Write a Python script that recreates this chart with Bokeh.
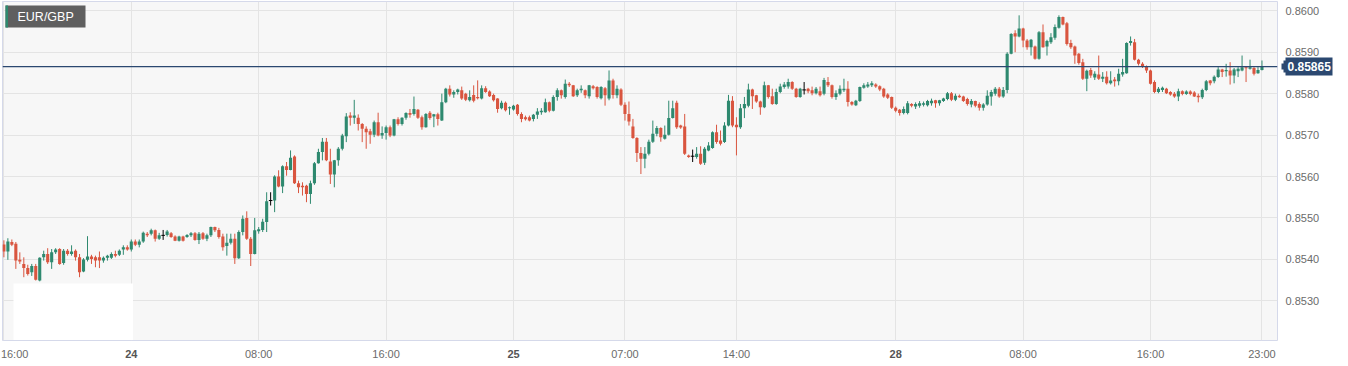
from bokeh.plotting import figure
from bokeh.models import (Range1d, FixedTicker, Label, Span, BoxAnnotation,
                          ColumnDataSource, LinearAxis)
from bokeh.embed import file_html
from bokeh.resources import INLINE

# ---------------- data: EUR/GBP 15-minute candles ----------------
opens = [
0.85436,0.85419,0.85442,0.85438,0.85399,0.85389,0.85379,0.85369,0.85384,0.85349,
0.85405,0.85413,0.85393,0.85417,0.85425,0.85391,0.85421,0.85413,0.85421,0.85405,
0.85371,0.85399,0.85407,0.85405,0.85405,0.85397,0.85404,0.85404,0.85413,0.85411,
0.85424,0.85429,0.85424,0.85443,0.85435,0.85443,0.85462,0.85462,0.85470,0.85450,
0.85458,0.85459,0.85463,0.85455,0.85445,0.85455,0.85454,0.85458,0.85463,0.85447,
0.85463,0.85450,0.85458,0.85478,0.85471,0.85455,0.85432,0.85440,0.85450,0.85403,
0.85466,0.85500,0.85450,0.85413,0.85468,0.85471,0.85490,0.85542,0.85542,0.85600,
0.85576,0.85625,0.85616,0.85648,0.85584,0.85578,0.85578,0.85558,0.85584,0.85632,
0.85659,0.85684,0.85636,0.85605,0.85639,0.85667,0.85697,0.85747,0.85742,0.85742,
0.85727,0.85715,0.85709,0.85701,0.85731,0.85699,0.85705,0.85719,0.85699,0.85738,
0.85727,0.85742,0.85753,0.85751,0.85761,0.85743,0.85719,0.85754,0.85745,0.85750,
0.85735,0.85779,0.85812,0.85798,0.85804,0.85808,0.85800,0.85784,0.85797,0.85792,
0.85788,0.85813,0.85805,0.85797,0.85788,0.85765,0.85778,0.85765,0.85762,0.85773,
0.85751,0.85743,0.85743,0.85739,0.85749,0.85755,0.85755,0.85779,0.85759,0.85792,
0.85808,0.85792,0.85824,0.85820,0.85796,0.85808,0.85808,0.85794,0.85818,0.85816,
0.85789,0.85813,0.85788,0.85832,0.85796,0.85810,0.85773,0.85751,0.85721,0.85693,
0.85657,0.85643,0.85655,0.85684,0.85703,0.85717,0.85691,0.85701,0.85741,0.85778,
0.85723,0.85721,0.85651,0.85649,0.85647,0.85655,0.85633,0.85663,0.85669,0.85707,
0.85687,0.85683,0.85723,0.85783,0.85725,0.85719,0.85765,0.85771,0.85810,0.85796,
0.85781,0.85767,0.85820,0.85794,0.85775,0.85804,0.85816,0.85817,0.85828,0.85812,
0.85792,0.85809,0.85812,0.85808,0.85801,0.85806,0.85800,0.85828,0.85820,0.85792,
0.85800,0.85808,0.85812,0.85780,0.85772,0.85782,0.85814,0.85817,0.85820,0.85822,
0.85818,0.85812,0.85798,0.85792,0.85766,0.85761,0.85753,0.85753,0.85775,0.85769,
0.85771,0.85773,0.85772,0.85777,0.85784,0.85777,0.85782,0.85787,0.85801,0.85785,
0.85795,0.85793,0.85787,0.85774,0.85782,0.85775,0.85766,0.85774,0.85793,0.85800,
0.85812,0.85793,0.85809,0.85896,0.85946,0.85938,0.85957,0.85928,0.85912,0.85914,
0.85884,0.85948,0.85914,0.85924,0.85935,0.85959,0.85985,0.85970,0.85922,0.85914,
0.85896,0.85876,0.85836,0.85857,0.85839,0.85846,0.85836,0.85841,0.85825,0.85834,
0.85830,0.85846,0.85849,0.85922,0.85924,0.85882,0.85872,0.85866,0.85856,0.85828,
0.85804,0.85809,0.85812,0.85804,0.85800,0.85793,0.85806,0.85799,0.85805,0.85803,
0.85795,0.85791,0.85809,0.85832,0.85830,0.85840,0.85858,0.85854,0.85856,0.85844,
0.85854,0.85856,0.85864,0.85860,0.85862,0.85849,0.85857]

highs = [
0.85446,0.85451,0.85448,0.85442,0.85417,0.85405,0.85387,0.85389,0.85389,0.85405,
0.85421,0.85427,0.85425,0.85427,0.85427,0.85425,0.85425,0.85434,0.85424,0.85413,
0.85403,0.85456,0.85411,0.85409,0.85419,0.85407,0.85411,0.85417,0.85421,0.85424,
0.85434,0.85434,0.85448,0.85448,0.85448,0.85467,0.85466,0.85474,0.85472,0.85464,
0.85471,0.85471,0.85466,0.85458,0.85457,0.85457,0.85461,0.85466,0.85466,0.85466,
0.85466,0.85462,0.85479,0.85479,0.85476,0.85462,0.85462,0.85462,0.85462,0.85470,
0.85506,0.85516,0.85454,0.85500,0.85478,0.85498,0.85562,0.85562,0.85603,0.85615,
0.85627,0.85635,0.85663,0.85651,0.85590,0.85586,0.85580,0.85590,0.85635,0.85667,
0.85693,0.85693,0.85667,0.85640,0.85671,0.85703,0.85753,0.85755,0.85785,0.85750,
0.85729,0.85721,0.85715,0.85735,0.85754,0.85721,0.85723,0.85723,0.85739,0.85743,
0.85743,0.85755,0.85763,0.85793,0.85763,0.85747,0.85753,0.85758,0.85751,0.85754,
0.85800,0.85814,0.85820,0.85808,0.85812,0.85817,0.85802,0.85808,0.85820,0.85832,
0.85820,0.85818,0.85808,0.85800,0.85789,0.85783,0.85781,0.85769,0.85773,0.85775,
0.85755,0.85747,0.85747,0.85751,0.85765,0.85765,0.85788,0.85781,0.85796,0.85813,
0.85810,0.85834,0.85828,0.85821,0.85812,0.85820,0.85810,0.85821,0.85821,0.85818,
0.85818,0.85816,0.85856,0.85836,0.85820,0.85813,0.85779,0.85781,0.85739,0.85695,
0.85671,0.85671,0.85689,0.85735,0.85722,0.85719,0.85723,0.85783,0.85783,0.85783,
0.85725,0.85751,0.85653,0.85665,0.85671,0.85673,0.85671,0.85683,0.85709,0.85725,
0.85711,0.85731,0.85797,0.85794,0.85743,0.85775,0.85792,0.85824,0.85812,0.85797,
0.85783,0.85829,0.85821,0.85812,0.85812,0.85824,0.85828,0.85836,0.85830,0.85814,
0.85814,0.85828,0.85814,0.85817,0.85816,0.85817,0.85838,0.85840,0.85822,0.85808,
0.85820,0.85836,0.85830,0.85782,0.85785,0.85817,0.85825,0.85828,0.85830,0.85825,
0.85820,0.85814,0.85801,0.85793,0.85769,0.85763,0.85769,0.85782,0.85777,0.85779,
0.85782,0.85781,0.85785,0.85788,0.85785,0.85785,0.85790,0.85804,0.85804,0.85800,
0.85798,0.85795,0.85790,0.85787,0.85783,0.85779,0.85777,0.85808,0.85809,0.85816,
0.85816,0.85816,0.85900,0.85946,0.85953,0.85989,0.85959,0.85932,0.85932,0.85916,
0.85951,0.85967,0.85930,0.85946,0.85967,0.85989,0.85986,0.85973,0.85930,0.85916,
0.85898,0.85884,0.85858,0.85862,0.85854,0.85892,0.85852,0.85854,0.85854,0.85840,
0.85860,0.85884,0.85924,0.85938,0.85932,0.85884,0.85876,0.85868,0.85858,0.85832,
0.85816,0.85817,0.85814,0.85806,0.85804,0.85812,0.85808,0.85808,0.85808,0.85806,
0.85800,0.85812,0.85833,0.85833,0.85844,0.85864,0.85860,0.85872,0.85876,0.85862,
0.85864,0.85892,0.85865,0.85882,0.85864,0.85864,0.85880]

lows = [
0.85405,0.85399,0.85432,0.85377,0.85389,0.85357,0.85361,0.85360,0.85349,0.85347,
0.85397,0.85389,0.85377,0.85413,0.85387,0.85387,0.85409,0.85409,0.85397,0.85357,
0.85369,0.85395,0.85389,0.85381,0.85379,0.85392,0.85397,0.85401,0.85405,0.85408,
0.85411,0.85421,0.85419,0.85432,0.85429,0.85440,0.85454,0.85458,0.85443,0.85447,
0.85447,0.85455,0.85452,0.85444,0.85443,0.85443,0.85452,0.85454,0.85445,0.85437,
0.85447,0.85444,0.85454,0.85466,0.85450,0.85421,0.85409,0.85436,0.85389,0.85401,
0.85458,0.85447,0.85384,0.85412,0.85462,0.85466,0.85466,0.85530,0.85514,0.85574,
0.85560,0.85602,0.85615,0.85582,0.85560,0.85554,0.85538,0.85534,0.85580,0.85631,
0.85639,0.85637,0.85582,0.85574,0.85626,0.85663,0.85683,0.85723,0.85727,0.85711,
0.85683,0.85667,0.85679,0.85695,0.85697,0.85691,0.85689,0.85695,0.85697,0.85723,
0.85723,0.85737,0.85742,0.85747,0.85739,0.85713,0.85718,0.85737,0.85719,0.85723,
0.85734,0.85777,0.85793,0.85790,0.85798,0.85785,0.85782,0.85781,0.85779,0.85786,
0.85786,0.85802,0.85792,0.85781,0.85754,0.85762,0.85757,0.85749,0.85759,0.85747,
0.85731,0.85735,0.85733,0.85733,0.85739,0.85749,0.85754,0.85755,0.85757,0.85783,
0.85788,0.85788,0.85816,0.85792,0.85792,0.85802,0.85789,0.85788,0.85810,0.85788,
0.85786,0.85771,0.85784,0.85788,0.85789,0.85770,0.85735,0.85723,0.85691,0.85635,
0.85606,0.85620,0.85651,0.85681,0.85697,0.85684,0.85689,0.85699,0.85740,0.85715,
0.85715,0.85652,0.85645,0.85635,0.85643,0.85628,0.85628,0.85661,0.85667,0.85679,
0.85675,0.85681,0.85721,0.85719,0.85651,0.85715,0.85741,0.85767,0.85763,0.85778,
0.85749,0.85765,0.85788,0.85773,0.85773,0.85801,0.85812,0.85812,0.85809,0.85790,
0.85790,0.85798,0.85801,0.85796,0.85798,0.85793,0.85796,0.85816,0.85788,0.85785,
0.85796,0.85804,0.85769,0.85771,0.85770,0.85780,0.85812,0.85814,0.85816,0.85814,
0.85806,0.85790,0.85787,0.85763,0.85755,0.85747,0.85750,0.85750,0.85767,0.85763,
0.85766,0.85769,0.85769,0.85771,0.85766,0.85771,0.85780,0.85784,0.85782,0.85782,
0.85790,0.85780,0.85771,0.85767,0.85767,0.85759,0.85759,0.85771,0.85771,0.85795,
0.85790,0.85790,0.85801,0.85895,0.85900,0.85936,0.85912,0.85906,0.85892,0.85882,
0.85882,0.85911,0.85892,0.85920,0.85930,0.85957,0.85965,0.85916,0.85908,0.85872,
0.85870,0.85833,0.85806,0.85838,0.85833,0.85833,0.85828,0.85822,0.85822,0.85817,
0.85820,0.85841,0.85848,0.85916,0.85880,0.85868,0.85862,0.85850,0.85822,0.85801,
0.85801,0.85804,0.85799,0.85795,0.85790,0.85782,0.85796,0.85797,0.85796,0.85792,
0.85779,0.85787,0.85806,0.85820,0.85825,0.85838,0.85840,0.85841,0.85822,0.85825,
0.85840,0.85854,0.85828,0.85858,0.85844,0.85848,0.85856]

closes = [
0.85419,0.85443,0.85435,0.85397,0.85395,0.85379,0.85365,0.85384,0.85351,0.85404,
0.85413,0.85393,0.85417,0.85424,0.85389,0.85421,0.85413,0.85419,0.85405,0.85369,
0.85400,0.85407,0.85401,0.85397,0.85397,0.85404,0.85409,0.85413,0.85409,0.85421,
0.85429,0.85424,0.85443,0.85435,0.85443,0.85464,0.85458,0.85470,0.85450,0.85458,
0.85458,0.85467,0.85454,0.85445,0.85455,0.85445,0.85459,0.85463,0.85447,0.85462,
0.85450,0.85458,0.85478,0.85470,0.85454,0.85429,0.85440,0.85450,0.85403,0.85466,
0.85498,0.85450,0.85413,0.85470,0.85473,0.85491,0.85540,0.85542,0.85600,0.85576,
0.85625,0.85616,0.85645,0.85584,0.85574,0.85574,0.85558,0.85584,0.85632,0.85659,
0.85684,0.85639,0.85605,0.85639,0.85667,0.85699,0.85745,0.85742,0.85747,0.85727,
0.85715,0.85707,0.85701,0.85731,0.85699,0.85705,0.85719,0.85699,0.85738,0.85727,
0.85742,0.85753,0.85749,0.85763,0.85742,0.85719,0.85751,0.85741,0.85750,0.85739,
0.85779,0.85812,0.85798,0.85804,0.85810,0.85788,0.85785,0.85792,0.85783,0.85789,
0.85813,0.85804,0.85794,0.85784,0.85763,0.85778,0.85760,0.85767,0.85771,0.85751,
0.85739,0.85738,0.85735,0.85749,0.85757,0.85759,0.85779,0.85759,0.85792,0.85808,
0.85796,0.85824,0.85820,0.85794,0.85808,0.85812,0.85796,0.85820,0.85813,0.85792,
0.85816,0.85796,0.85832,0.85797,0.85812,0.85773,0.85751,0.85733,0.85693,0.85657,
0.85643,0.85655,0.85684,0.85703,0.85717,0.85695,0.85701,0.85741,0.85765,0.85719,
0.85718,0.85655,0.85647,0.85649,0.85655,0.85631,0.85667,0.85675,0.85707,0.85683,
0.85679,0.85723,0.85783,0.85723,0.85719,0.85765,0.85775,0.85810,0.85794,0.85781,
0.85767,0.85820,0.85792,0.85775,0.85804,0.85817,0.85822,0.85828,0.85812,0.85792,
0.85812,0.85809,0.85806,0.85801,0.85812,0.85796,0.85833,0.85820,0.85792,0.85801,
0.85812,0.85812,0.85780,0.85774,0.85783,0.85816,0.85820,0.85822,0.85825,0.85817,
0.85810,0.85793,0.85790,0.85766,0.85759,0.85753,0.85763,0.85777,0.85771,0.85775,
0.85777,0.85777,0.85782,0.85783,0.85777,0.85784,0.85788,0.85801,0.85785,0.85795,
0.85791,0.85782,0.85775,0.85782,0.85771,0.85766,0.85774,0.85795,0.85804,0.85812,
0.85793,0.85809,0.85896,0.85944,0.85938,0.85957,0.85928,0.85912,0.85930,0.85884,
0.85948,0.85912,0.85927,0.85936,0.85961,0.85985,0.85967,0.85920,0.85912,0.85892,
0.85874,0.85836,0.85855,0.85844,0.85848,0.85836,0.85841,0.85825,0.85832,0.85830,
0.85848,0.85852,0.85922,0.85927,0.85882,0.85872,0.85866,0.85856,0.85824,0.85804,
0.85812,0.85814,0.85801,0.85798,0.85793,0.85806,0.85799,0.85805,0.85799,0.85793,
0.85791,0.85809,0.85830,0.85825,0.85841,0.85858,0.85852,0.85857,0.85844,0.85858,
0.85860,0.85864,0.85861,0.85864,0.85848,0.85857,0.85865]

# time-axis labels (candle index of each label) and price ticks
x_tick_idx = [0, 32, 64, 96, 128, 156, 184, 224, 256, 288, 316]
x_tick_labels = ["16:00", "24", "08:00", "16:00", "25", "07:00", "14:00",
                 "28", "08:00", "16:00", "23:00"]
date_labels = ["24", "25", "28"]
y_ticks = [0.8530, 0.8540, 0.8550, 0.8560, 0.8570, 0.8580, 0.8590, 0.8600]
y_tick_labels = ["0.8530", "0.8540", "0.8550", "0.8560", "0.8570", "0.8580",
                 "0.8590", "0.8600"]
symbol = "EUR/GBP"

# ---------------- layout / style ----------------
UP, DOWN, DOJI = "#2e896f", "#d9553f", "#000000"
NAVY = "#2b4870"
FONT = "Liberation Sans"
LABEL_GREY = "#6b6b6b"
W, H = 1348, 366
FL, FT, FW, FH = 2, 1, 1275, 339
X0, X1 = -0.35, 319.9
Y0, Y1 = 0.852042, 0.860224
FIRST_LABEL_SHIFT = 2.7     # first time label is nudged right to stay visible
DATE_STANDOFF = -13         # pulls the bold date row up onto the time row


def sx(px):
    return X0 + (px - FL) / FW * (X1 - X0)


def sy(py):
    return Y1 - (py - FT) / FH * (Y1 - Y0)


p = figure(width=W, height=H, output_backend="svg", toolbar_location=None,
           title=None, x_range=Range1d(X0, X1), y_range=Range1d(Y0, Y1),
           y_axis_location="right",
           min_border_left=FL, min_border_top=FT,
           min_border_right=W - FL - FW, min_border_bottom=H - FT - FH,
           background_fill_color="#f7f7f7", border_fill_color="white",
           outline_line_color="#d5d9ea")

# candles
n = len(closes)
groups = {g: dict(x=[], l=[], h=[], c=[], top=[], bot=[])
          for g in ("up", "down", "doji")}
for i in range(n):
    o, h, l, c = opens[i], highs[i], lows[i], closes[i]
    g = "up" if c > o else ("down" if c < o else "doji")
    d = groups[g]
    d["x"].append(i); d["h"].append(h); d["l"].append(l); d["c"].append(c)
    d["top"].append(max(o, c)); d["bot"].append(min(o, c))

for g, col in (("up", UP), ("down", DOWN)):
    src = ColumnDataSource(groups[g])
    p.segment(x0="x", y0="l", x1="x", y1="h", source=src, line_color=col,
              line_width=1)
    p.vbar(x="x", width=0.78, top="top", bottom="bot", source=src,
           fill_color=col, line_color=None)

dj = groups["doji"]
dj_src = ColumnDataSource(dict(x=dj["x"], l=dj["l"], h=dj["h"], c=dj["c"],
                               x0=[v - 0.45 for v in dj["x"]],
                               x1=[v + 0.45 for v in dj["x"]]))
p.segment(x0="x", y0="l", x1="x", y1="h", source=dj_src, line_color=DOJI,
          line_width=1)
p.segment(x0="x0", y0="c", x1="x1", y1="c", source=dj_src, line_color=DOJI,
          line_width=1)


def plain_axis(ax, color=LABEL_GREY, style="normal", size="11px"):
    ax.axis_line_color = None
    ax.major_tick_line_color = None
    ax.minor_tick_line_color = None
    ax.major_tick_in = 0
    ax.major_tick_out = 0
    ax.major_label_text_font = FONT
    ax.major_label_text_font_size = size
    ax.major_label_text_color = color
    ax.major_label_text_font_style = style


# time labels (bottom axis)
time_pos, time_txt = [], []
for k, (t, lab) in enumerate(zip(x_tick_idx, x_tick_labels)):
    if lab in date_labels:
        continue
    pos = t + FIRST_LABEL_SHIFT if k == 0 else t
    time_pos.append(pos)
    time_txt.append(lab)
p.xaxis.ticker = FixedTicker(ticks=time_pos)
p.xaxis.major_label_overrides = dict(zip(time_pos, time_txt))
plain_axis(p.xaxis[0])
p.xaxis.major_label_standoff = 7

# bold date labels (second bottom axis, pulled onto the same row)
date_pos = [t for t, lab in zip(x_tick_idx, x_tick_labels) if lab in date_labels]
date_axis = LinearAxis(ticker=FixedTicker(ticks=date_pos),
                       major_label_overrides={t: lab for t, lab in
                                              zip(x_tick_idx, x_tick_labels)
                                              if lab in date_labels})
plain_axis(date_axis, color="#555555", style="bold")
date_axis.major_label_standoff = DATE_STANDOFF
p.add_layout(date_axis, "below")

# price axis (right)
p.yaxis.ticker = FixedTicker(ticks=y_ticks)
p.yaxis.major_label_overrides = dict(zip(y_ticks, y_tick_labels))
plain_axis(p.yaxis[0])
p.yaxis.major_label_standoff = 8

last = closes[-1]

# arrow of the last-price tag: two zero-width axes whose short thick ticks
# form a stepped pointer just right of the frame
for tick_in, lw in ((39, 12), (41, 6)):
    arrow_axis = LinearAxis(ticker=FixedTicker(ticks=[last]),
                            major_label_overrides={last: ""})
    arrow_axis.axis_line_color = None
    arrow_axis.minor_tick_line_color = None
    arrow_axis.major_tick_line_color = NAVY
    arrow_axis.major_tick_line_width = lw
    arrow_axis.major_tick_in = tick_in
    arrow_axis.major_tick_out = -36
    arrow_axis.major_label_standoff = 36
    p.add_layout(arrow_axis, "right")

# last-price tag: a one-tick axis whose thick tick forms the navy badge
tag_axis = LinearAxis(ticker=FixedTicker(ticks=[last]),
                      major_label_overrides={last: f"{last:.5f}"})
tag_axis.axis_line_color = None
tag_axis.minor_tick_line_color = None
tag_axis.major_tick_line_color = NAVY
tag_axis.major_tick_line_width = 18
tag_axis.major_tick_in = 37
tag_axis.major_tick_out = 10
tag_axis.major_label_standoff = -45
tag_axis.major_label_text_font = FONT
tag_axis.major_label_text_font_size = "12px"
tag_axis.major_label_text_font_style = "bold"
tag_axis.major_label_text_color = "white"
p.add_layout(tag_axis, "right")

# grid
p.xgrid.ticker = FixedTicker(ticks=x_tick_idx)
p.ygrid.ticker = FixedTicker(ticks=y_ticks)
p.xgrid.grid_line_color = "#e4e4e4"
p.ygrid.grid_line_color = "#e4e4e4"

# light patch at bottom-left of the reference
p.add_layout(BoxAnnotation(left=sx(13), right=sx(132.5), top=sy(283),
                           bottom=sy(339.5), fill_color="white", fill_alpha=1,
                           line_color=None))

# symbol badge
p.add_layout(BoxAnnotation(left=sx(5), right=sx(85), top=sy(5), bottom=sy(27),
                           fill_color="#5f5f5f", fill_alpha=1, line_color=None))
p.add_layout(BoxAnnotation(left=sx(5), right=sx(7.5), top=sy(5), bottom=sy(27),
                           fill_color=UP, fill_alpha=1, line_color=None))
p.add_layout(Label(x=sx(17), y=sy(16.3), text=symbol, text_align="left",
                   text_baseline="middle", text_font=FONT,
                   text_font_size="12.5px", text_color="white"))

# last price line
p.add_layout(Span(location=last, dimension="width", line_color=NAVY,
                  line_width=1.2))

open("out.html", "w").write(file_html(p, INLINE))
